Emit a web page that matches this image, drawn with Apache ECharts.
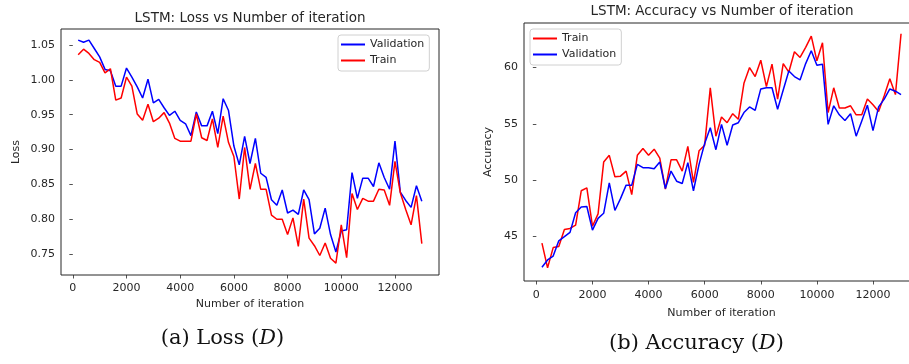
<!DOCTYPE html>
<html>
<head>
<meta charset="utf-8">
<script src="https://cdn.jsdelivr.net/npm/echarts@6/dist/echarts.min.js"></script>
<style>
  html, body { margin: 0; padding: 0; background: #fff; }
  #chart { width: 909px; height: 364px; }
</style>
</head>
<body>
<div id="chart"></div>
<script>
// iterations shared by both panels
const iterations = [
  200, 400, 600, 800, 1000, 1200, 1400, 1600, 1800, 2000,
  2200, 2400, 2600, 2800, 3000, 3200, 3400, 3600, 3800, 4000,
  4200, 4400, 4600, 4800, 5000, 5200, 5400, 5600, 5800, 6000,
  6200, 6400, 6600, 6800, 7000, 7200, 7400, 7600, 7800, 8000,
  8200, 8400, 8600, 8800, 9000, 9200, 9400, 9600, 9800, 10000,
  10200, 10400, 10600, 10800, 11000, 11200, 11400, 11600, 11800, 12000,
  12200, 12400, 12600, 12800, 13000
];

// (a) loss
const lossVal = [
  1.057, 1.054, 1.057, 1.045, 1.033, 1.015, 1.013, 0.991, 0.991, 1.017,
  1.004, 0.990, 0.974, 1.001, 0.967, 0.972, 0.960, 0.949, 0.955, 0.942,
  0.937, 0.920, 0.954, 0.934, 0.934, 0.955, 0.923, 0.973, 0.956, 0.905,
  0.878, 0.919, 0.880, 0.916, 0.866, 0.860, 0.828, 0.820, 0.842, 0.809,
  0.813, 0.807, 0.842, 0.828, 0.779, 0.787, 0.816, 0.778, 0.753, 0.783,
  0.785, 0.867, 0.830, 0.859, 0.859, 0.847, 0.881, 0.860, 0.843, 0.912,
  0.839, 0.827, 0.817, 0.848, 0.826
];
const lossTrain = [
  1.036, 1.044, 1.038, 1.029, 1.025, 1.010, 1.016, 0.971, 0.974, 1.004,
  0.991, 0.951, 0.942, 0.965, 0.940, 0.945, 0.953, 0.938, 0.916, 0.912,
  0.912, 0.912, 0.951, 0.917, 0.913, 0.944, 0.903, 0.948, 0.910, 0.890,
  0.829, 0.903, 0.843, 0.880, 0.843, 0.843, 0.806, 0.800, 0.800, 0.778,
  0.802, 0.761, 0.829, 0.773, 0.762, 0.748, 0.766, 0.744, 0.737, 0.792,
  0.745, 0.837, 0.814, 0.830, 0.826, 0.826, 0.843, 0.842, 0.820, 0.883,
  0.838, 0.814, 0.792, 0.834, 0.765
];

// (b) accuracy
const accTrain = [
  44.4, 42.2, 44.0, 44.1, 45.6, 45.7, 46.0, 49.05, 49.3, 45.9,
  47.0, 51.6, 52.2, 50.3, 50.35, 50.8, 48.7, 52.2, 52.8, 52.2,
  52.75, 51.95, 49.2, 51.8, 51.8, 50.8, 53.0, 49.8, 52.6, 53.1,
  58.2, 53.9, 55.6, 55.1, 55.9, 55.4, 58.6, 60.0, 59.2, 60.65,
  58.3, 60.3, 57.2, 60.35, 59.6, 61.4, 60.9, 61.8, 62.8, 60.6,
  62.2, 56.0, 58.2, 56.4, 56.4, 56.6, 55.8, 55.8, 57.2, 56.7,
  56.1, 57.5, 59.0, 57.6, 63.0
];
const accVal = [
  42.25, 42.9, 43.25, 44.6, 44.97, 45.35, 47.1, 47.6, 47.65, 45.55,
  46.6, 47.05, 49.75, 47.3, 48.35, 49.55, 49.55, 51.4, 51.1, 51.1,
  51.0, 51.6, 49.25, 50.8, 49.9, 49.7, 51.55, 49.05, 51.4, 53.25,
  54.65, 52.7, 54.95, 53.1, 54.9, 55.1, 56.0, 56.5, 56.2, 58.1,
  58.2, 58.2, 56.3, 58.0, 59.7, 59.2, 58.9, 60.35, 61.5, 60.2,
  60.3, 54.95, 56.6, 55.8, 55.3, 55.9, 53.9, 55.25, 56.65, 54.4,
  56.5, 57.2, 58.1, 57.9, 57.6
];

const xTicks = [0, 2000, 4000, 6000, 8000, 10000, 12000];
const lossTicks = [0.75, 0.80, 0.85, 0.90, 0.95, 1.00, 1.05];
const accTicks = [45, 50, 55, 60];

const pairs = (ys) => iterations.map((x, i) => [x, ys[i]]);

const FONT = 'DejaVu Sans';
const INK = '#262626';
const FS = 11;

function xAxisFor(gridIndex, gap, margin) {
  return {
    type: 'value', gridIndex: gridIndex, min: -440, max: 13640,
    name: 'Number of iteration', nameLocation: 'middle', nameGap: gap,
    nameTextStyle: { fontFamily: FONT, fontSize: FS, color: INK },
    axisLine: { show: false },
    axisTick: { show: true, inside: false, length: 3.5, customValues: xTicks,
      lineStyle: { color: INK, width: 0.8 } },
    axisLabel: { customValues: xTicks, fontFamily: FONT, fontSize: FS, color: INK, margin: margin,
      formatter: (v) => String(v) },
    splitLine: { show: false }
  };
}

function yAxisFor(gridIndex, min, max, ticks, name, gap, fmt) {
  return {
    type: 'value', gridIndex: gridIndex, min: min, max: max,
    name: name, nameLocation: 'middle', nameGap: gap,
    nameTextStyle: { fontFamily: FONT, fontSize: FS, color: INK },
    axisLine: { show: false },
    axisTick: { show: true, inside: false, length: 3.5, customValues: ticks,
      lineStyle: { color: INK, width: 0.8 } },
    axisLabel: { customValues: ticks, fontFamily: FONT, fontSize: FS, color: INK, margin: 6,
      formatter: fmt },
    splitLine: { show: false }
  };
}

function line(name, color, xi, yi, data) {
  return {
    name: name, type: 'line', xAxisIndex: xi, yAxisIndex: yi,
    data: data, showSymbol: false, symbol: 'none',
    lineStyle: { color: color, width: 1.5 }, itemStyle: { color: color }
  };
}

const legendBase = {
  orient: 'vertical', icon: 'rect', itemWidth: 24, itemHeight: 2, itemGap: 5,
  backgroundColor: 'rgba(255,255,255,0.8)', borderColor: '#d0d0d0', borderWidth: 1,
  borderRadius: 3, textStyle: { fontFamily: FONT, fontSize: FS, color: INK },
  selectedMode: false
};

const chart = echarts.init(document.getElementById('chart'), null, { renderer: 'canvas' });

chart.setOption({
  animation: false,
  backgroundColor: '#fff',
  grid: [
    { left: 61, top: 29, width: 378, height: 246, show: true, borderColor: INK, borderWidth: 1,
      backgroundColor: 'transparent', outerBoundsMode: 'none', containLabel: false },
    // right panel runs past the canvas edge, as in the original figure
    { left: 524, top: 23, width: 395, height: 258, show: true, borderColor: INK, borderWidth: 1,
      backgroundColor: 'transparent', outerBoundsMode: 'none', containLabel: false }
  ],
  xAxis: [xAxisFor(0, 23, 8), xAxisFor(1, 27, 9)],
  yAxis: [
    yAxisFor(0, 0.720, 1.073, lossTicks, 'Loss', 39, (v) => v.toFixed(2)),
    yAxisFor(1, 41.03, 63.96, accTicks, 'Accuracy', 30, (v) => String(v))
  ],
  legend: [
    Object.assign({}, legendBase, { data: ['Validation', 'Train'], left: 338, top: 35, padding: [4, 5, 5, 3] }),
    Object.assign({}, legendBase, { data: ['Train', 'Validation'], left: 530, top: 29, padding: [4, 5, 5, 3] })
  ],
  series: [
    line('Validation', '#0000ff', 0, 0, pairs(lossVal)),
    line('Train', '#ff0000', 0, 0, pairs(lossTrain)),
    line('Train', '#ff0000', 1, 1, pairs(accTrain)),
    line('Validation', '#0000ff', 1, 1, pairs(accVal))
  ],
  graphic: [
    { type: 'text', x: 250, y: 18, style: { text: 'LSTM: Loss vs Number of iteration',
        fontFamily: FONT, fontSize: 13.5, fill: INK, align: 'center', verticalAlign: 'middle' } },
    { type: 'text', x: 722, y: 11, style: { text: 'LSTM: Accuracy vs Number of iteration',
        fontFamily: FONT, fontSize: 13.5, fill: INK, align: 'center', verticalAlign: 'middle' } },
    { type: 'text', x: 222.5, y: 339, style: { text: '(a) Loss ({it|D})',
        fontFamily: 'DejaVu Serif', fontSize: 21, fontWeight: 'normal', fill: '#111', align: 'center', verticalAlign: 'middle',
        rich: { it: { fontFamily: 'DejaVu Serif', fontSize: 21, fontStyle: 'italic', fill: '#111' } } } },
    { type: 'text', x: 696.5, y: 344, style: { text: '(b) Accuracy ({it|D})',
        fontFamily: 'DejaVu Serif', fontSize: 21, fontWeight: 'normal', fill: '#111', align: 'center', verticalAlign: 'middle',
        rich: { it: { fontFamily: 'DejaVu Serif', fontSize: 21, fontStyle: 'italic', fill: '#111' } } } }
  ]
});
</script>
</body>
</html>
